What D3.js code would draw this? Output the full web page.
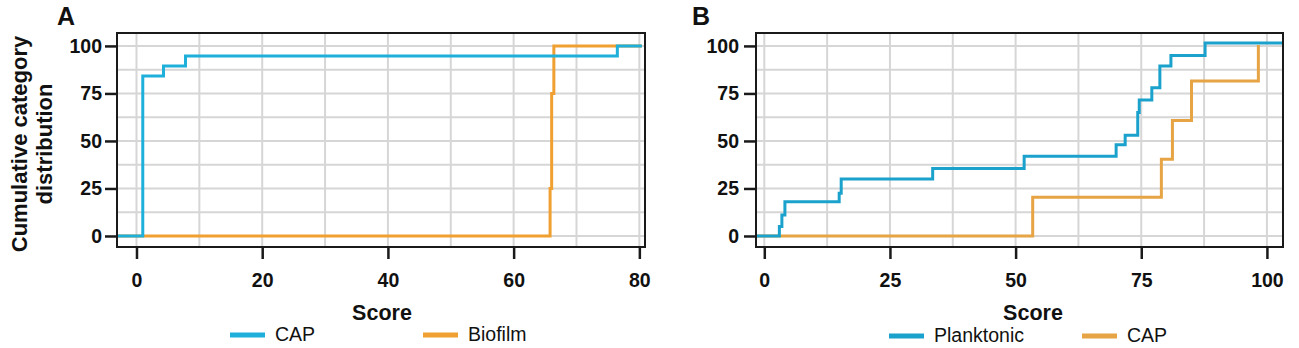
<!DOCTYPE html>
<html>
<head>
<meta charset="utf-8">
<script src="https://cdn.jsdelivr.net/npm/d3@7"></script>
<style>
  body { margin: 0; background: #fff; }
  svg { font-family: "Liberation Sans", Arial, sans-serif; }
</style>
</head>
<body>
<svg id="chart" width="1299" height="348"></svg>
<script>
// Panel A: step points [score, cumulative %]
const capA = [[1.0, 84.2], [4.3, 89.5], [7.8, 94.7], [76.5, 100]];
const biofilmA = [[65.8, 25], [66.05, 75], [66.4, 100]];
// Panel B
const planktonicB = [[3.0, 5], [3.5, 11], [4.1, 18], [14.9, 22.5], [15.3, 30], [33.5, 35.5],
                     [51.7, 42], [70.0, 48], [71.8, 53], [74.3, 65], [74.6, 71.5], [77.1, 78],
                     [78.7, 89.5], [80.9, 95], [87.7, 101.5]];
const capB = [[53.4, 20.4], [79.0, 40.4], [81.2, 60.7], [85.0, 81.6], [98.3, 100.5]];

const yTicks = [0, 25, 50, 75, 100];
const xTicksA = [0, 20, 40, 60, 80];
const xTicksB = [0, 25, 50, 75, 100];

const svg = d3.select("#chart");
const plotTop = 33, plotBottom = 247;

function panel(o) {
    const x = d3.scaleLinear().domain(o.xDomain).range(o.xRange);
    const y = d3.scaleLinear().domain([-5.8, 106.8]).range([plotBottom, plotTop]);
    const g = svg.append("g");

    // grid
    g.selectAll(".vg").data(o.xGrid).enter().append("line")
        .attr("x1", d => x(d)).attr("x2", d => x(d))
        .attr("y1", plotTop).attr("y2", plotBottom)
        .attr("stroke", "#d6d6d6").attr("stroke-width", 2);
    g.selectAll(".hg").data(d3.range(0, 100.1, 12.5)).enter().append("line")
        .attr("x1", o.xRange[0]).attr("x2", o.xRange[1])
        .attr("y1", d => y(d)).attr("y2", d => y(d))
        .attr("stroke", "#d6d6d6").attr("stroke-width", 2);

    // step lines, orange first so blue sits on top
    const line = d3.line().x(d => x(d[0])).y(d => y(d[1])).curve(d3.curveStepAfter);
    o.series.forEach(s => {
        const pts = [[o.xDomain[0], 0]].concat(s.data);
        if (s.end !== undefined) pts.push([s.end, s.data[s.data.length - 1][1]]);
        g.append("path")
            .attr("d", line(pts))
            .attr("fill", "none")
            .attr("stroke", s.color)
            .attr("stroke-width", 3);
    });

    // frame
    g.append("rect")
        .attr("x", o.xRange[0]).attr("y", plotTop)
        .attr("width", o.xRange[1] - o.xRange[0]).attr("height", plotBottom - plotTop)
        .attr("fill", "none").attr("stroke", "#1a1a1a").attr("stroke-width", 2);

    // axes
    const ax = g.append("g").attr("transform", `translate(0,${plotBottom})`)
        .call(d3.axisBottom(x).tickValues(o.xTicks).tickSize(12).tickPadding(14));
    const ay = g.append("g").attr("transform", `translate(${o.xRange[0]},0)`)
        .call(d3.axisLeft(y).tickValues(yTicks).tickSize(12).tickPadding(o.yPad));
    [ax, ay].forEach(a => {
        a.select(".domain").remove();
        a.selectAll("line").attr("stroke", "#1a1a1a").attr("stroke-width", 2.5);
        a.selectAll("text").attr("fill", "#111").attr("font-size", 19.5)
            .attr("font-weight", "bold").attr("font-family", "Liberation Sans, Arial, sans-serif");
    });

    // panel letter
    g.append("text").attr("x", o.letterX).attr("y", 25)
        .attr("font-size", 25).attr("font-weight", "bold").attr("fill", "#111")
        .text(o.letter);

    // x title
    g.append("text").attr("x", o.titleX).attr("y", 320)
        .attr("text-anchor", "middle").attr("font-size", 21.5).attr("font-weight", "bold")
        .attr("fill", "#111").text("Score");

    // legend
    o.legend.forEach(l => {
        g.append("line").attr("x1", l.x).attr("x2", l.x + 35)
            .attr("y1", o.legendY).attr("y2", o.legendY)
            .attr("stroke", l.color).attr("stroke-width", 5);
        g.append("text").attr("x", l.x + 45).attr("y", o.legendY + 6)
            .attr("font-size", 19.5).attr("fill", "#111").text(l.label);
    });
}

panel({
    letter: "A", letterX: 57,
    xDomain: [-3.1, 80.9], xRange: [117, 645],
    xTicks: xTicksA, xGrid: d3.range(0, 80.1, 10), yPad: 3,
    titleX: 382,
    series: [
        { data: biofilmA, color: "#f0a030", end: 80.4 },
        { data: capA, color: "#1eb0da", end: 80.4 }
    ],
    legendY: 335,
    legend: [
        { x: 230, color: "#1eb0da", label: "CAP" },
        { x: 423, color: "#f0a030", label: "Biofilm" }
    ]
});

panel({
    letter: "B", letterX: 692,
    xDomain: [-1.65, 103.2], xRange: [756, 1283],
    xTicks: xTicksB, xGrid: d3.range(0, 100.1, 12.5), yPad: 5,
    titleX: 1033,
    series: [
        { data: capB, color: "#e6a445" },
        { data: planktonicB, color: "#1ba2cc", end: 103 }
    ],
    legendY: 336,
    legend: [
        { x: 889, color: "#1ba2cc", label: "Planktonic" },
        { x: 1082, color: "#e6a445", label: "CAP" }
    ]
});

// y title (shared left)
const yt = svg.append("text")
    .attr("transform", "translate(0,144) rotate(-90)")
    .attr("text-anchor", "middle").attr("font-size", 22).attr("font-weight", "bold")
    .attr("fill", "#111");
yt.append("tspan").attr("x", 0).attr("y", 27).text("Cumulative category");
yt.append("tspan").attr("x", 0).attr("y", 52).text("distribution");
</script>
</body>
</html>
